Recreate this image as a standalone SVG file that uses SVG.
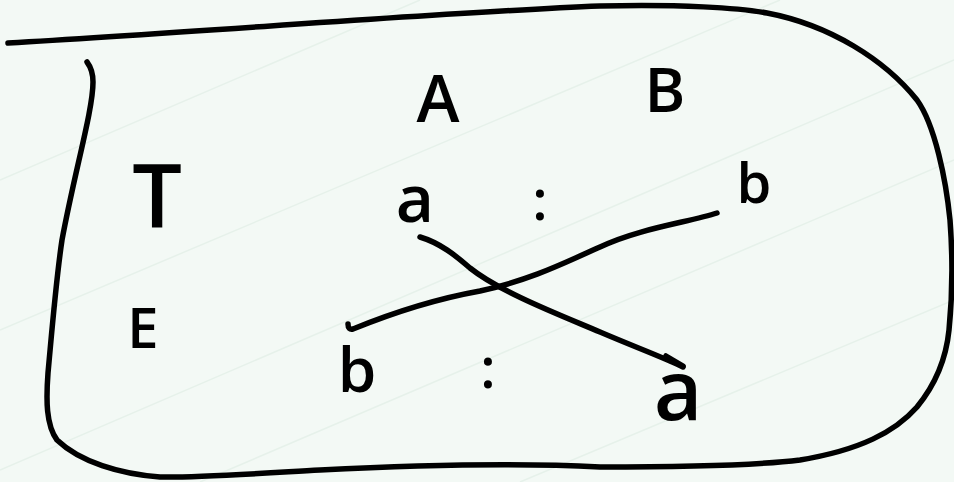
<svg xmlns="http://www.w3.org/2000/svg" width="954" height="482" viewBox="0 0 954 482">
  <style>
    .ink { fill: none; stroke: #000; stroke-width: 5.5; stroke-linecap: round; stroke-linejoin: round; }
    .bg-line { stroke: #e6f1ea; stroke-width: 1.5; fill: none; }
    .lbl { font-family: "Open Sans", "Liberation Sans", sans-serif; font-weight: 600; fill: #000; text-anchor: middle; }
  </style>
  <rect width="954" height="482" fill="#f3f9f5"/>
  <g id="background-lines">
    <path class="bg-line" d="M0,180 L420,0 M0,330 L780,0 M0,470 L954,60 M200,482 L954,160 M520,482 L954,300"/>
  </g>
  <g id="frame">
    <path class="ink" d="M8,43 C 200,32 450,12 600,6 C 680,4 740,8 767,13 C 830,25 885,60 917,100 C 935,125 946,180 950,220 C 953,260 952,300 949,330 C 946,360 935,385 917,407 C 895,432 860,450 800,460 C 760,465 680,467 600,467 C 500,462 400,466 320,470 C 250,474 190,478 160,477 C 120,474 80,462 57,440 C 46,425 46,400 48,373 C 52,330 56,280 62,240 C 75,170 93,110 93,82 C 93,72 90,66 87,62"/>
  </g>
  <g id="connectors">
    <path class="ink" d="M420,237 C 440,243 455,255 470,268 C 500,292 560,315 600,332 C 635,347 665,358 683,367"/>
    <path class="ink" d="M666,356 L683,366" stroke-width="8"/>
    <path class="ink" d="M348,324 Q348,330 353,329 C 380,318 430,300 480,291 C 530,280 560,265 600,247 C 640,228 690,222 717,213"/>
  </g>
  <g id="label-A"><text class="lbl" x="438" y="122" font-size="65">A</text></g>
  <g id="label-B"><text class="lbl" x="665" y="112" font-size="62">B</text></g>
  <g id="label-T"><text class="lbl" x="157" y="228" font-size="88">T</text></g>
  <g id="label-E"><text class="lbl" x="143" y="348" font-size="56">E</text></g>
  <g id="label-a-top"><text class="lbl" x="415" y="222" font-size="66">a</text></g>
  <g id="label-colon-top"><text class="lbl" x="540" y="220" font-size="56">:</text></g>
  <g id="label-b-top"><text class="lbl" x="754" y="203" font-size="56">b</text></g>
  <g id="label-b-bottom"><text class="lbl" x="357" y="392" font-size="62">b</text></g>
  <g id="label-colon-bottom"><text class="lbl" x="488" y="388" font-size="56">:</text></g>
  <g id="label-a-bottom"><text class="lbl" x="678" y="420" font-size="84">a</text></g>
</svg>
